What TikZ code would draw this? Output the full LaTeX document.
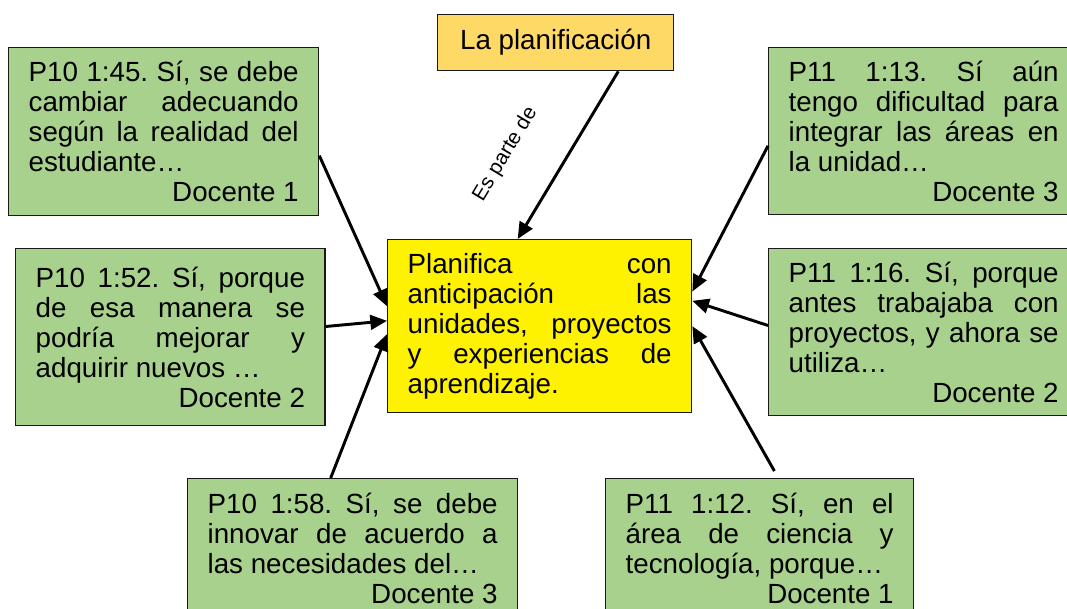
\documentclass[tikz,border=0pt]{standalone}
\usepackage{fontspec}
\setmainfont{Liberation Sans}
\usetikzlibrary{arrows.meta}
\definecolor{verde}{RGB}{169,209,142}
\definecolor{naranja}{RGB}{255,217,102}
\setlength{\parindent}{0pt}
\tolerance=10000
\hbadness=10000
\hyphenpenalty=10000
\frenchspacing
\newcommand{\letracaja}{\fontsize{20.8}{22.5}\selectfont}
\newcommand{\docente}[1]{\par{\raggedleft Docente #1\par}}

\begin{document}
\begin{tikzpicture}[x=0.75pt, y=-0.75pt,
        caja/.style={draw=black!90, line width=1pt, anchor=north west, inner xsep=15pt, inner ysep=0pt,
            align=justify, font=\letracaja},
        cita/.style={caja, fill=verde},
        flecha/.style={line width=2.2pt, -{Triangle[length=12.5pt, width=11pt]}}]
        \useasboundingbox (0,0) rectangle (1067,609);

        \node[caja, fill=naranja, align=center, inner sep=0pt, minimum width=177pt, minimum height=42pt] (plan) at (437,14) {La planificación};
        \node[caja, fill=yellow, text width=198pt, minimum height=129.75pt] (centro) at (387,239)
            {Planifica con\linebreak anticipación las\linebreak unidades, proyectos\linebreak y experiencias de\linebreak aprendizaje.};

        \node[cita, text width=202.5pt, minimum height=126pt]    (d1) at (8,47)
            {P10 1:45. Sí, se debe\linebreak cambiar adecuando\linebreak según la realidad del\linebreak estudiante…\docente{1}};
        \node[cita, text width=202pt, minimum height=132.75pt]   (d2) at (15,248)
            {P10 1:52. Sí, porque\linebreak de esa manera se\linebreak podría mejorar y\linebreak adquirir nuevos …\docente{2}};
        \node[cita, text width=217.5pt, minimum height=105pt]    (d3) at (187,478)
            {P10 1:58. Sí, se debe\linebreak innovar de acuerdo a\linebreak las necesidades del…\docente{3}};
        \node[cita, text width=202.5pt, minimum height=125.25pt] (d4) at (768,47)
            {P11 1:13. Sí aún\linebreak tengo dificultad para\linebreak integrar las áreas en\linebreak la unidad…\docente{3}};
        \node[cita, text width=202.5pt, minimum height=125.25pt] (d5) at (768,248)
            {P11 1:16. Sí, porque\linebreak antes trabajaba con\linebreak proyectos, y ahora se\linebreak utiliza…\docente{2}};
        \node[cita, text width=201pt, minimum height=105pt]      (d6) at (605,478)
            {P11 1:12. Sí, en el\linebreak área de ciencia y\linebreak tecnología, porque…\docente{1}};

        \draw[flecha] ([xshift=47pt]plan.south) -- node[sloped, pos=0.66, above=29pt, font=\fontsize{15.5}{17}\selectfont]{Es parte de} ([xshift=-16.5pt]centro.north);
        \draw[flecha] ([yshift=-18pt]d1.east) -- ([yshift=15pt]centro.west);
        \draw[flecha] ([yshift=8pt]d2.east)   -- ([yshift=4pt]centro.west);
        \draw[flecha] ([xshift=-16.5pt]d3.north) -- ([yshift=-6pt]centro.west);
        \draw[flecha] ([yshift=-11pt]d4.west) -- ([yshift=26pt]centro.east);
        \draw[flecha] ([yshift=5pt]d5.west)   -- ([yshift=19pt]centro.east);
        \draw[flecha, shorten <=6pt] ([xshift=14pt]d6.north) -- (centro.east);
    \end{tikzpicture}
\end{document}
